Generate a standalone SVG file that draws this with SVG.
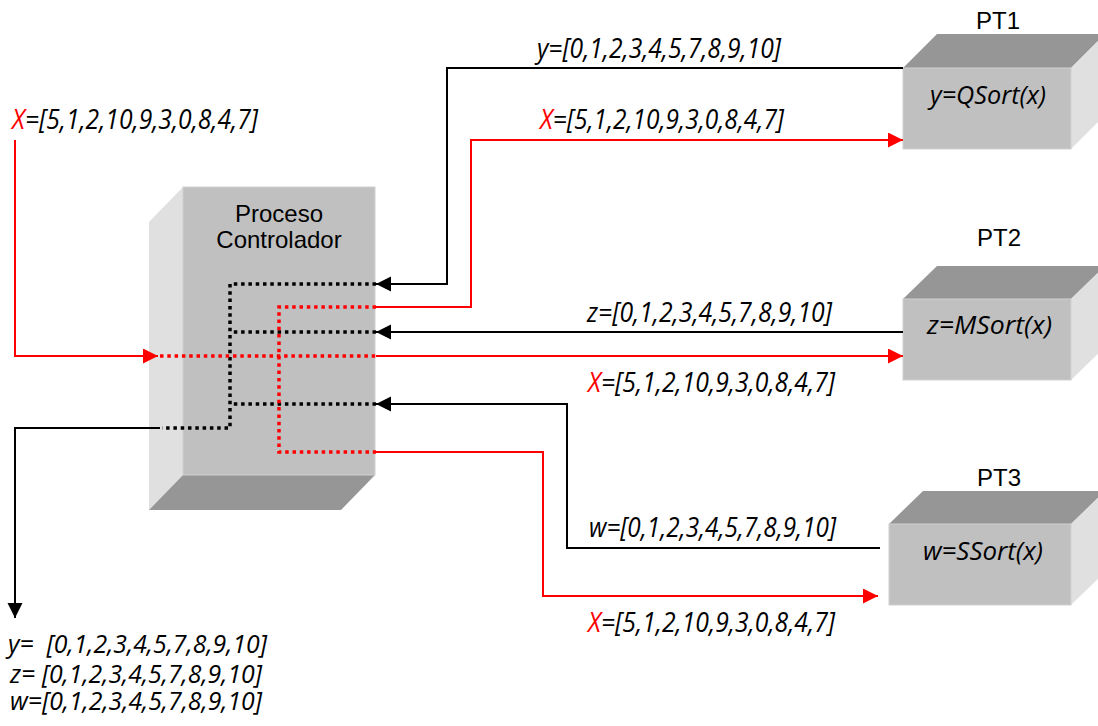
<svg xmlns="http://www.w3.org/2000/svg" width="1098" height="726" viewBox="0 0 1098 726">
<style>
.front{fill:#c0c0c0;stroke:#d0d0d0;stroke-width:1}
.side{fill:#e0e0e0}
.dark{fill:#969696}
.title{font-family:"Liberation Sans",Arial,sans-serif;font-size:24px;fill:#000;text-anchor:middle}
.fn{font-family:"Open Sans","DejaVu Sans",sans-serif;font-style:italic;font-size:25px;fill:#000}
.lbl{font-family:"Open Sans","DejaVu Sans",sans-serif;font-style:italic;font-size:28px;fill:#000}
.lbl2{font-family:"Open Sans","DejaVu Sans",sans-serif;font-style:italic;font-size:25px;fill:#000}
.r{fill:#ff0000}
.blk{fill:none;stroke:#000;stroke-width:2}
.red{fill:none;stroke:#ff0000;stroke-width:2}
.bdot{fill:none;stroke:#000;stroke-width:3.5;stroke-dasharray:3.5 3.8}
.rdot{fill:none;stroke:#ff0000;stroke-width:3.5;stroke-dasharray:3.5 3.8}
</style>
<defs>
<marker id="ab" markerUnits="userSpaceOnUse" markerWidth="16" markerHeight="16" refX="15" refY="7.5" orient="auto">
<path d="M0,0 L15,7.5 L0,15 z" fill="#000"/>
</marker>
<marker id="ar" markerUnits="userSpaceOnUse" markerWidth="16" markerHeight="16" refX="15" refY="7.5" orient="auto">
<path d="M0,0 L15,7.5 L0,15 z" fill="#ff0000"/>
</marker>
</defs>
<rect width="1098" height="726" fill="#fff"/>

<g id="controller">
<polygon class="side" points="149,222 183,187 183,475 149,510"/>
<polygon class="dark" points="183,475 375,475 341,510 149,510"/>
<rect class="front" x="183" y="187" width="192" height="288"/>
<text class="title" x="279" y="222">Proceso</text>
<text class="title" x="279" y="248">Controlador</text>
</g>

<g id="pt1">
<polygon class="dark" points="903,68 937,34 1105,34 1071,68"/>
<polygon class="side" points="1071,68 1105,34 1105,115 1071,149"/>
<rect class="front" x="903" y="68" width="168" height="81"/>
<text class="title" x="998" y="29">PT1</text>
<text class="fn" x="930" y="104" textLength="116" lengthAdjust="spacingAndGlyphs">y=QSort(x)</text>
</g>

<g id="pt2">
<polygon class="dark" points="903,299 937,266 1105,266 1071,299"/>
<polygon class="side" points="1071,299 1105,266 1105,347 1071,380"/>
<rect class="front" x="903" y="299" width="168" height="81"/>
<text class="title" x="999" y="246">PT2</text>
<text class="fn" x="927" y="334" textLength="125" lengthAdjust="spacingAndGlyphs">z=MSort(x)</text>
</g>

<g id="pt3">
<polygon class="dark" points="889,524 923,491 1105,491 1071,524"/>
<polygon class="side" points="1071,524 1105,491 1105,572 1071,605"/>
<rect class="front" x="889" y="524" width="182" height="81"/>
<text class="title" x="999" y="486">PT3</text>
<text class="fn" x="923" y="560" textLength="120" lengthAdjust="spacingAndGlyphs">w=SSort(x)</text>
</g>

<g id="connectors">
<path class="blk" d="M903,68 H447 V284 H376" marker-end="url(#ab)"/>
<path class="blk" d="M903,332 H376" marker-end="url(#ab)"/>
<path class="blk" d="M880,548 H567 V404 H376" marker-end="url(#ab)"/>
<path class="blk" d="M160,428 H15 V618" marker-end="url(#ab)"/>
<path class="bdot" d="M376,284 H230 V428 H162"/>
<path class="bdot" d="M376,332 H232"/>
<path class="bdot" d="M376,404 H232"/>
<path class="red" d="M15,140 V356 H158" marker-end="url(#ar)"/>
<path class="red" d="M376,307 H471 V140 H903" marker-end="url(#ar)"/>
<path class="red" d="M376,356 H903" marker-end="url(#ar)"/>
<path class="red" d="M376,452 H543 V596 H878" marker-end="url(#ar)"/>
<path class="rdot" d="M160,356 H376"/>
<path class="rdot" d="M376,307 H279 V452 H376"/>
</g>

<g id="labels">
<text class="lbl" x="12" y="129" textLength="246" lengthAdjust="spacingAndGlyphs"><tspan class="r">X</tspan>=[5,1,2,10,9,3,0,8,4,7]</text>
<text class="lbl" x="537" y="58" textLength="244" lengthAdjust="spacingAndGlyphs">y=[0,1,2,3,4,5,7,8,9,10]</text>
<text class="lbl" x="540" y="129" textLength="244" lengthAdjust="spacingAndGlyphs"><tspan class="r">X</tspan>=[5,1,2,10,9,3,0,8,4,7]</text>
<text class="lbl" x="587" y="322" textLength="245" lengthAdjust="spacingAndGlyphs">z=[0,1,2,3,4,5,7,8,9,10]</text>
<text class="lbl" x="588" y="392" textLength="247" lengthAdjust="spacingAndGlyphs"><tspan class="r">X</tspan>=[5,1,2,10,9,3,0,8,4,7]</text>
<text class="lbl" x="589" y="537" textLength="247" lengthAdjust="spacingAndGlyphs">w=[0,1,2,3,4,5,7,8,9,10]</text>
<text class="lbl" x="588" y="632" textLength="247" lengthAdjust="spacingAndGlyphs"><tspan class="r">X</tspan>=[5,1,2,10,9,3,0,8,4,7]</text>
<text class="lbl2" x="8" y="653" textLength="259" lengthAdjust="spacingAndGlyphs" xml:space="preserve">y=  [0,1,2,3,4,5,7,8,9,10]</text>
<text class="lbl2" x="10" y="683" textLength="252" lengthAdjust="spacingAndGlyphs" xml:space="preserve">z= [0,1,2,3,4,5,7,8,9,10]</text>
<text class="lbl2" x="10" y="710" textLength="252" lengthAdjust="spacingAndGlyphs">w=[0,1,2,3,4,5,7,8,9,10]</text>
</g>
</svg>
